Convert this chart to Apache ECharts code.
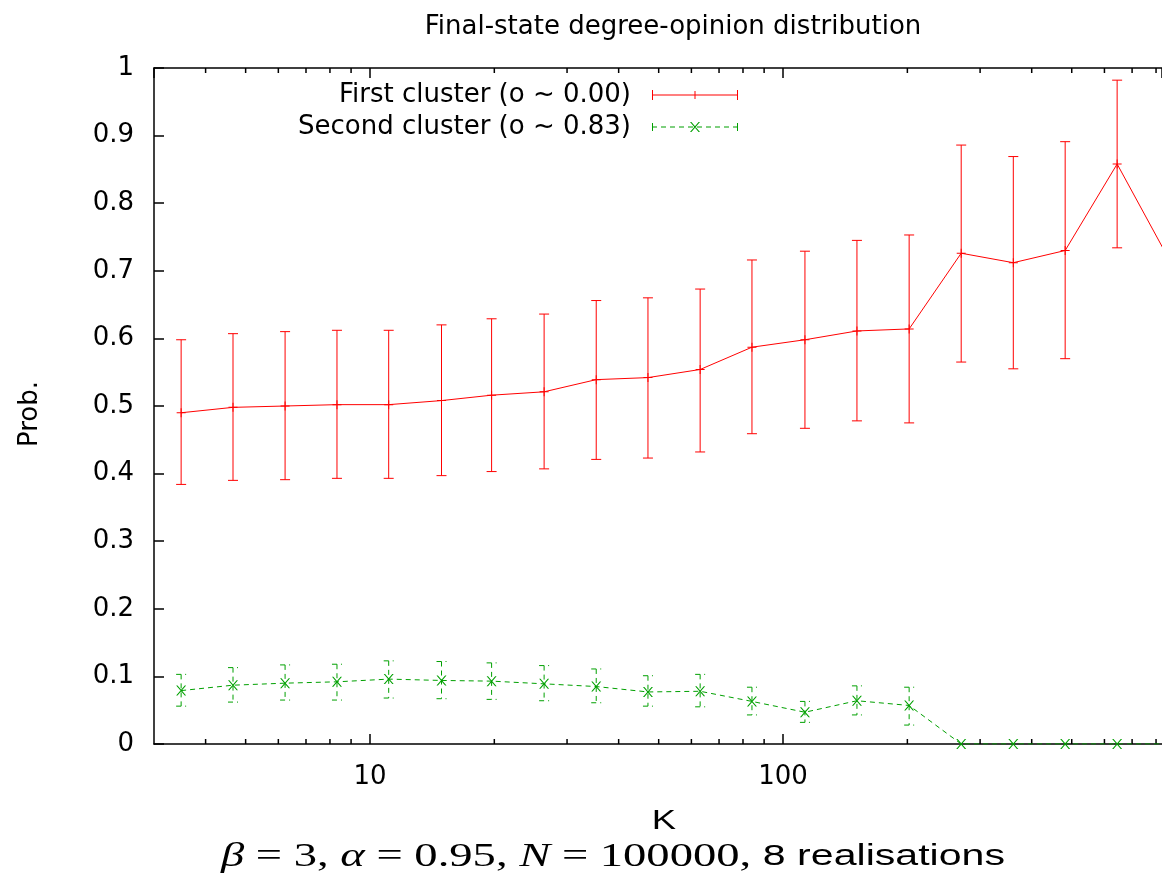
<!DOCTYPE html>
<html><head><meta charset="utf-8">
<script src="https://cdn.jsdelivr.net/npm/echarts@6/dist/echarts.min.js"></script>
<style>html,body{margin:0;padding:0;background:#fff}#c{width:1162px;height:876px}</style>
</head><body><div id="c"></div>
<script>
// ---- data ----
const kValues    = [3.49, 4.66, 6.23, 8.32, 11.1, 14.9, 19.7, 26.4, 35.3, 47.1, 63.0, 84.1, 113, 151, 202, 270, 361, 482, 644, 860];
const firstMean  = [0.490, 0.498, 0.500, 0.502, 0.502, 0.508, 0.516, 0.521, 0.539, 0.542, 0.554, 0.587, 0.598, 0.611, 0.614, 0.726, 0.712, 0.730, 0.858, 0.717];
const firstHigh  = [0.598, 0.607, 0.610, 0.612, 0.612, 0.620, 0.629, 0.636, 0.656, 0.660, 0.673, 0.716, 0.729, 0.745, 0.753, 0.886, 0.869, 0.891, 0.982, 0.850];
const firstLow   = [0.384, 0.390, 0.391, 0.393, 0.393, 0.397, 0.403, 0.407, 0.421, 0.423, 0.432, 0.459, 0.467, 0.478, 0.475, 0.565, 0.555, 0.570, 0.734, 0.580];
const secondMean = [0.079, 0.087, 0.090, 0.092, 0.096, 0.094, 0.093, 0.089, 0.085, 0.077, 0.078, 0.063, 0.047, 0.064, 0.057, 0, 0, 0, 0, 0];
const secondHigh = [0.103, 0.113, 0.117, 0.118, 0.123, 0.122, 0.120, 0.116, 0.111, 0.101, 0.103, 0.084, 0.063, 0.086, 0.084, 0, 0, 0, 0, 0];
const secondLow  = [0.056, 0.062, 0.065, 0.065, 0.068, 0.067, 0.066, 0.064, 0.061, 0.056, 0.055, 0.043, 0.032, 0.043, 0.028, 0, 0, 0, 0, 0];
const xMinorTicks = [4, 5, 6, 7, 8, 9, 20, 30, 40, 50, 60, 70, 80, 90, 200, 300, 400, 500, 600, 700, 800];
const xRange = [3, 827];   // visible K range (the plot is cropped at the right)
const seriesNames = ['First cluster (o ~ 0.00)', 'Second cluster (o ~ 0.83)'];
const titleText = 'Final-state degree-opinion distribution';
const xName = 'K';
const yName = 'Prob.';

// ---- styling ----
const RED = '#ff0000', GREEN = '#00a000';
const FONT = 'DejaVu Sans';
const DASH = [5, 4];

function dashedHLine(x0, x1, y, h, dash, gap) {
  let s = '';
  for (let x = x0; x < x1; x += dash + gap) {
    const w = Math.min(dash, x1 - x);
    s += 'M' + x + ' ' + y + 'h' + w + 'v' + h + 'h' + (-w) + 'z';
  }
  return s;
}
const plusSymbol = 'path://M4 0h1v9h-1zM0 4h9v1h-9z';
const crossSymbol = 'path://M0 0L1.4 0L10 10L8.6 10ZM8.6 0L10 0L1.4 10L0 10Z';
const redLegendIcon = 'path://M0 1h1v10h-1zM85 1h1v10h-1zM0 5.5h86v1h-86zM42.5 2h1v8h-1z';
const greenLegendIcon = 'path://' + dashedHLine(0, 86, 5.5, 1, 5, 4) +
  'M0 2h1v8h-1zM85 2h1v8h-1zM38 1L39.4 1L48 11L46.6 11ZM46.6 1L48 1L39.4 11L38 11Z';

function errorBarSeries(high, low, color, dashed) {
  return {
    type: 'custom', silent: true, clip: true, z: 2,
    data: kValues.map((k, i) => [k, low[i], high[i]]),
    encode: { x: 0, y: [1, 2] },
    renderItem(params, api) {
      const k = api.value(0), lo = api.value(1), hi = api.value(2);
      if (hi === lo) return null;
      const a = api.coord([k, hi]), b = api.coord([k, lo]);
      const cap = 5;
      const style = { stroke: color, lineWidth: 1, fill: null, lineDash: dashed ? DASH : null };
      return { type: 'group', children: [
        { type: 'line', shape: { x1: a[0], y1: a[1], x2: b[0], y2: b[1] }, style: style },
        { type: 'line', shape: { x1: a[0] - cap, y1: a[1], x2: a[0] + cap, y2: a[1] }, style: style },
        { type: 'line', shape: { x1: b[0] - cap, y1: b[1], x2: b[0] + cap, y2: b[1] }, style: style }
      ]};
    }
  };
}

const axisLineStyle = { color: '#000', width: 1.5 };
const chart = echarts.init(document.getElementById('c'));
chart.setOption({
  backgroundColor: '#fff',
  animation: false,
  title: {
    text: titleText, left: 668, top: 9, textAlign: 'center',
    textStyle: { fontFamily: FONT, fontSize: 26, fontWeight: 'normal', color: '#000' }
  },
  grid: { left: 154, right: 0, top: 68, bottom: 132 },
  xAxis: [{
    type: 'log', min: xRange[0], max: xRange[1], position: 'bottom',
    axisLine: { lineStyle: axisLineStyle },
    axisTick: { inside: true, length: 10, lineStyle: { color: '#000', width: 1.5 } },
    axisLabel: { showMinLabel: false, showMaxLabel: false, margin: 20, fontFamily: FONT, fontSize: 26, color: '#000' },
    splitLine: { show: false }
  }, {
    type: 'log', min: xRange[0], max: xRange[1], position: 'top',
    axisLine: { lineStyle: axisLineStyle },
    axisTick: { inside: true, length: 10, lineStyle: { color: '#000', width: 1.5 } },
    axisLabel: { show: false },
    splitLine: { show: false }
  }],
  yAxis: {
    type: 'value', min: 0, max: 1, interval: 0.1,
    axisLine: { show: true, lineStyle: axisLineStyle },
    axisTick: { show: true, inside: true, length: 10, lineStyle: { color: '#000', width: 1.5 } },
    axisLabel: { margin: 20, fontFamily: FONT, fontSize: 26, color: '#000' },
    splitLine: { show: false }
  },
  legend: [{
    data: [{ name: seriesNames[0], icon: redLegendIcon }],
    orient: 'vertical', align: 'right', right: 424, top: 80, padding: 0,
    itemWidth: 86, itemHeight: 12, selectedMode: false,
    itemStyle: { borderWidth: 0 },
    textStyle: { fontFamily: FONT, fontSize: 26, color: '#000', lineHeight: 30, padding: [0, 16, 0, 0] }
  }, {
    data: [{ name: seriesNames[1], icon: greenLegendIcon }],
    orient: 'vertical', align: 'right', right: 424, top: 112, padding: 0,
    itemWidth: 86, itemHeight: 12, selectedMode: false,
    itemStyle: { borderWidth: 0 },
    textStyle: { fontFamily: FONT, fontSize: 26, color: '#000', lineHeight: 30, padding: [0, 16, 0, 0] }
  }],
  graphic: [{
    type: 'text', x: 30, y: 414, rotation: Math.PI / 2,
    style: { text: yName, fontFamily: FONT, fontSize: 26, fill: '#000', align: 'center', verticalAlign: 'middle' }
  }, {
    type: 'text', x: 664, y: 822, scaleX: 1.35,
    style: { text: xName, fontFamily: 'Liberation Sans', fontSize: 27, fill: '#000', align: 'center', verticalAlign: 'middle' }
  }, {
    type: 'text', x: 613, y: 857, scaleX: 1.37,
    style: {
      text: '{m|β}{r| = 3, }{m|α}{r| = 0.95, }{m|N}{r| = 100000, }{s|8 realisations}',
      align: 'center', verticalAlign: 'middle', fill: '#000',
      fontFamily: 'Liberation Serif', fontSize: 34,
      rich: {
        m: { fontFamily: 'Liberation Serif', fontStyle: 'italic', fontSize: 34, fill: '#000' },
        r: { fontFamily: 'Liberation Serif', fontSize: 34, fill: '#000' },
        s: { fontFamily: 'Liberation Sans', fontSize: 30, fill: '#000' }
      }
    }
  }],
  series: [
    errorBarSeries(firstHigh, firstLow, RED, false),
    errorBarSeries(secondHigh, secondLow, GREEN, true),
    {
      type: 'custom', silent: true, clip: false, z: 1,
      data: xMinorTicks.map(v => [v, 0]),
      encode: { x: 0, y: 1 },
      renderItem(params, api) {
        const v = api.value(0);
        const b = api.coord([v, 0]), t = api.coord([v, 1]);
        const st = { stroke: '#000', lineWidth: 1.5 };
        return { type: 'group', children: [
          { type: 'line', shape: { x1: b[0], y1: b[1], x2: b[0], y2: b[1] - 5 }, style: st },
          { type: 'line', shape: { x1: t[0], y1: t[1], x2: t[0], y2: t[1] + 5 }, style: st }
        ]};
      }
    },
    {
      type: 'line', name: seriesNames[0], clip: true, z: 3,
      data: kValues.map((k, i) => [k, firstMean[i]]),
      symbol: plusSymbol, symbolSize: 9,
      lineStyle: { color: RED, width: 1 },
      itemStyle: { color: RED, borderWidth: 0 }
    },
    {
      type: 'line', name: seriesNames[1], clip: true, z: 3,
      data: kValues.map((k, i) => [k, secondMean[i]]),
      symbol: crossSymbol, symbolSize: 10,
      lineStyle: { color: GREEN, width: 1, type: DASH },
      itemStyle: { color: GREEN, borderWidth: 0 }
    }
  ]
});
</script></body></html>
